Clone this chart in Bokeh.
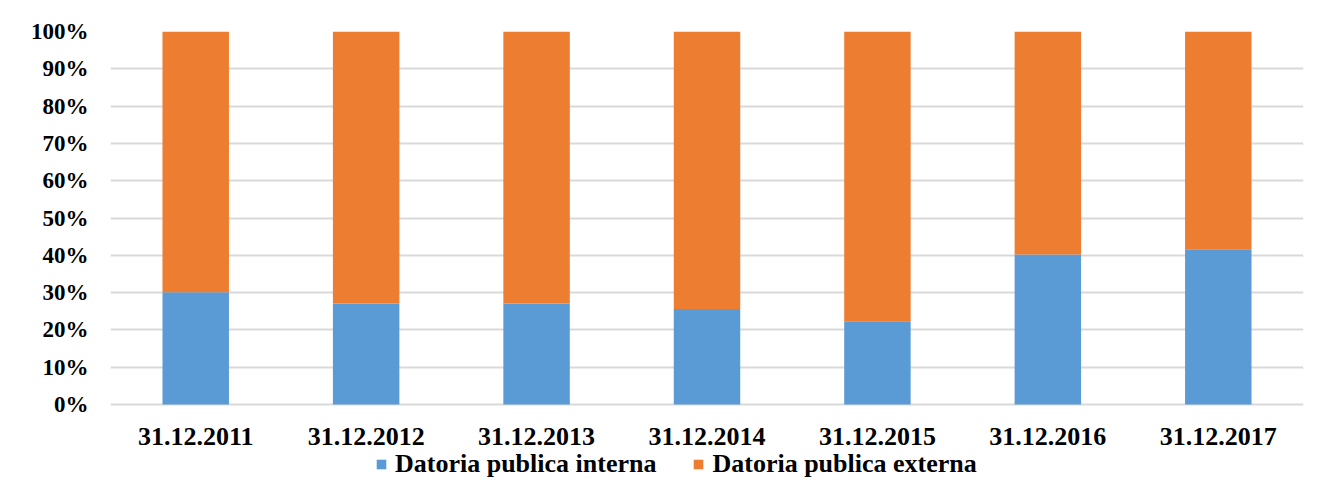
from bokeh.plotting import figure
from bokeh.models import (ColumnDataSource, Legend, LegendItem, NumeralTickFormatter,
                          FixedTicker, Range1d, CategoricalAxis)
from bokeh.embed import file_html
from bokeh.resources import INLINE

categories = ["31.12.2011", "31.12.2012", "31.12.2013", "31.12.2014",
              "31.12.2015", "31.12.2016", "31.12.2017"]
interna = [30.1, 27.1, 27.1, 25.6, 22.3, 40.2, 41.6]
externa = [100 - v for v in interna]
series_names = ["Datoria publica interna", "Datoria publica externa"]
colors = ["#5B9BD5", "#ED7D31"]
y_ticks = [0, 10, 20, 30, 40, 50, 60, 70, 80, 90, 100]

src = ColumnDataSource(dict(
    cat=categories,
    interna=[v / 100 for v in interna],
    externa=[v / 100 for v in externa],
))

W, H = 1314, 479
TOP, BOTTOM_ZERO = 31, 404
span = BOTTOM_ZERO - TOP
y_start = -(H - BOTTOM_ZERO) / span

p = figure(x_range=categories, y_range=Range1d(y_start, 1), width=W, height=H,
           output_backend="svg", toolbar_location=None, x_axis_location=None,
           min_border_left=110, min_border_right=11,
           min_border_top=TOP, min_border_bottom=0)

r = p.vbar_stack(["interna", "externa"], x="cat", width=0.39, source=src,
                 color=colors, line_color=None)

p.outline_line_color = None
p.background_fill_color = "white"

p.xgrid.grid_line_color = None
p.ygrid.grid_line_color = "#d9d9d9"
p.ygrid.grid_line_width = 2
p.ygrid.ticker = FixedTicker(ticks=[t / 100 for t in y_ticks])

xaxis = CategoricalAxis(fixed_location=0)
p.add_layout(xaxis, "below")

p.yaxis.ticker = FixedTicker(ticks=[t / 100 for t in y_ticks])
p.yaxis.formatter = NumeralTickFormatter(format="0%")
for ax in (xaxis, p.yaxis[0]):
    ax.axis_line_color = None
    ax.major_tick_line_color = None
    ax.minor_tick_line_color = None
    ax.major_tick_out = 0
    ax.major_tick_in = 0
    ax.major_label_text_font = "Liberation Serif"
    ax.major_label_text_font_style = "bold"
    ax.major_label_text_color = "black"

p.yaxis.major_label_text_font_size = "23px"
p.yaxis.major_label_standoff = 22
xaxis.major_label_text_font_size = "26px"
xaxis.major_label_standoff = 23

legend = Legend(items=[LegendItem(label=series_names[0], renderers=[r[0]]),
                       LegendItem(label=series_names[1], renderers=[r[1]])],
                orientation="horizontal", location=(265, 0),
                glyph_width=12, glyph_height=12, label_standoff=8, spacing=36,
                padding=0, margin=0, border_line_color=None,
                background_fill_alpha=0,
                label_text_font="Liberation Serif", label_text_font_style="bold",
                label_text_font_size="26px", label_text_color="black")
p.add_layout(legend, "center")

open("out.html", "w").write(file_html(p, INLINE))
